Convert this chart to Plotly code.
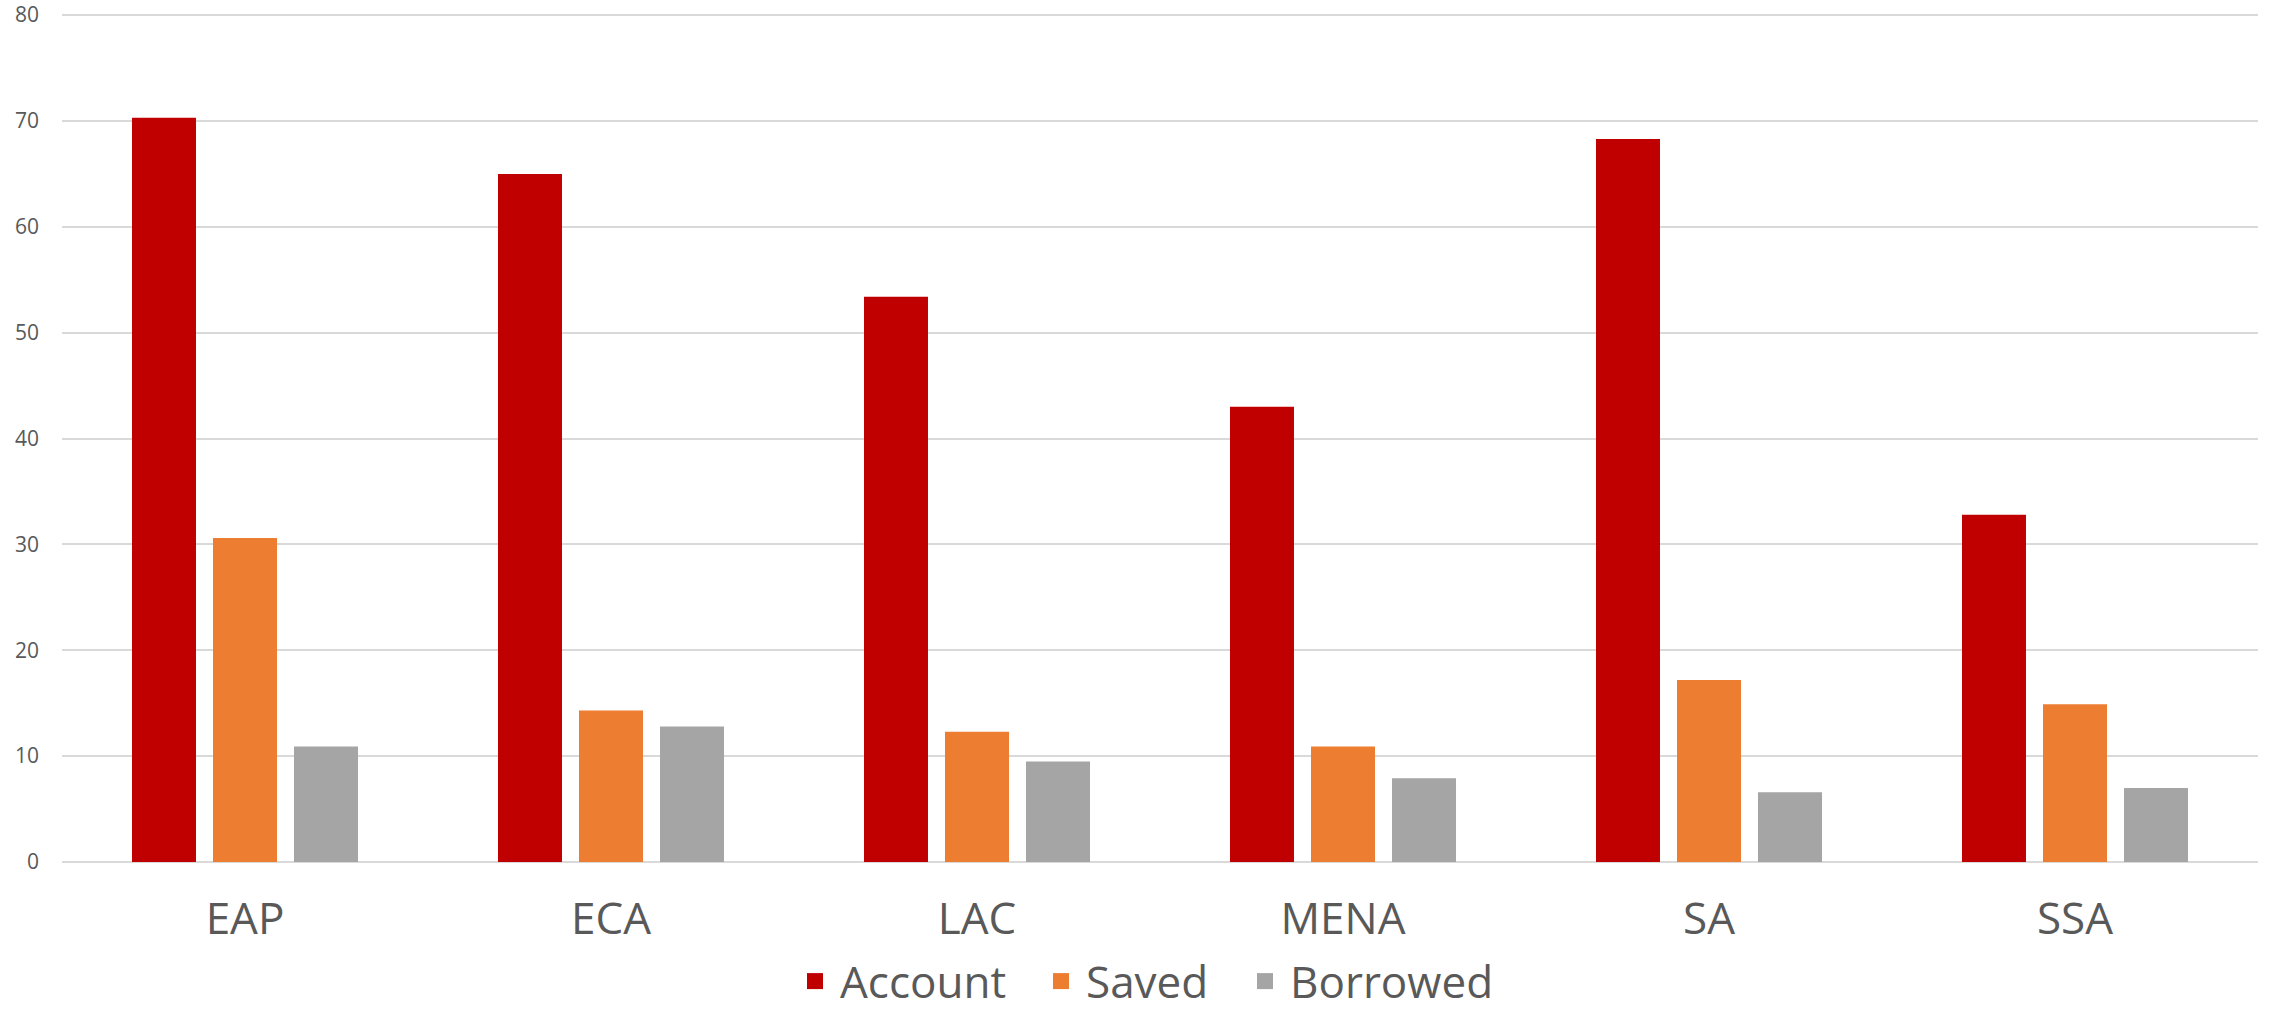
import plotly.graph_objects as go

# Regional shares (%) of adults with an account, who saved, and who borrowed
regions = ["EAP", "ECA", "LAC", "MENA", "SA", "SSA"]
account = [70.3, 65.0, 53.4, 43.0, 68.3, 32.8]
saved = [30.6, 14.3, 12.3, 10.9, 17.2, 14.9]
borrowed = [10.9, 12.8, 9.5, 7.9, 6.6, 7.0]

series_names = ["Account", "Saved", "Borrowed"]
series_colors = ["#C00000", "#ED7D31", "#A5A5A5"]
y_ticks = [0, 10, 20, 30, 40, 50, 60, 70, 80]

text_color = "#595959"
grid_color = "#D9D9D9"
W, H = 2270, 1017

fig = go.Figure()
for name, values, color in zip(series_names, [account, saved, borrowed], series_colors):
    fig.add_trace(go.Bar(name=name, x=regions, y=values, marker_color=color,
                         marker_line_width=0, showlegend=False))

# Legend entries: one legend per series so each key can be placed on its own,
# with a larger square swatch than the default bar key
legend_left = [790, 1036, 1240]
legend_ids = ["legend", "legend2", "legend3"]
for name, color, lid in zip(series_names, series_colors, legend_ids):
    fig.add_trace(go.Scatter(name=name, x=[None], y=[None], mode="markers",
                             marker=dict(symbol="square", size=24, color=color),
                             legend=lid, showlegend=True))

legend_style = dict(orientation="h", xref="container", yref="container",
                    xanchor="left", yanchor="bottom", y=0,
                    font=dict(size=44, color=text_color), itemsizing="trace",
                    itemwidth=40, bgcolor="rgba(0,0,0,0)")
layout_legends = {lid: dict(legend_style, x=px / W) for lid, px in zip(legend_ids, legend_left)}

fig.update_layout(
    width=W, height=H,
    paper_bgcolor="white", plot_bgcolor="white",
    margin=dict(l=62, r=12, t=13, b=155),
    barmode="group", bargap=0.336, bargroupgap=0.21,
    font=dict(family="Open Sans, Noto Sans, sans-serif", color=text_color),
    **layout_legends,
)
fig.update_xaxes(showgrid=False, showline=False, zeroline=False, automargin=False,
                 tickfont=dict(size=44, color=text_color), ticklabelstandoff=27)
fig.update_yaxes(range=[0, 80.2], tickvals=y_ticks, showgrid=True, gridcolor=grid_color,
                 gridwidth=2, zeroline=True, zerolinecolor=grid_color, zerolinewidth=2,
                 showline=False, automargin=False,
                 tickfont=dict(size=21, color=text_color), ticklabelstandoff=22)

fig.write_html("out.html")
